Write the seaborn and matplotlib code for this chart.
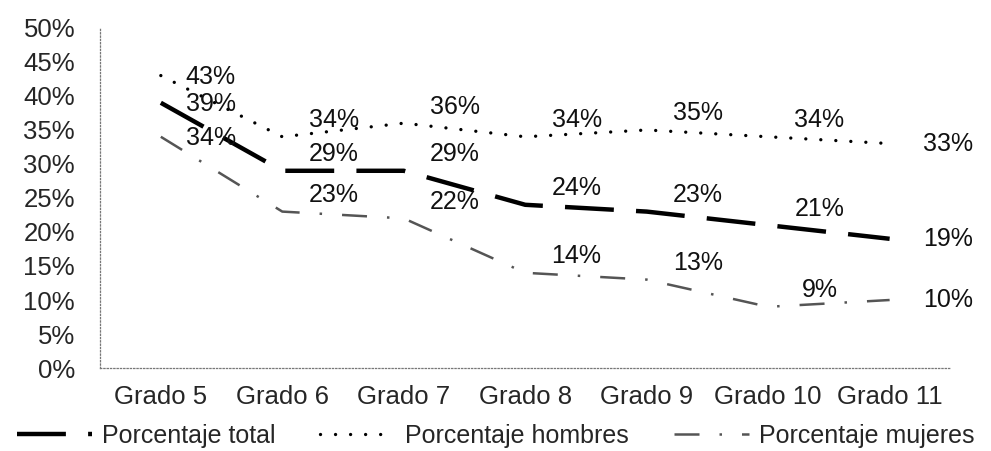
import pandas as pd
import seaborn as sns
import matplotlib.pyplot as plt

sns.set_style('white')
plt.rcParams['font.family'] = ['Liberation Sans', 'DejaVu Sans']

grados = ["Grado 5", "Grado 6", "Grado 7", "Grado 8", "Grado 9", "Grado 10", "Grado 11"]
total = [39, 29, 29, 24, 23, 21, 19]
hombres = [43, 34, 36, 34, 35, 34, 33]
mujeres = [34, 23, 22, 14, 13, 9, 10]

series = [
    ("Porcentaje total", total, dict(color='black', lw=3.2, dashes=(11, 5), cap='butt')),
    ("Porcentaje hombres", hombres, dict(color='black', lw=2.4, dashes=(0.01, 4.5), cap='round')),
    ("Porcentaje mujeres", mujeres, dict(color='#555555', lw=1.8, dashes=(10, 8, 1, 8), cap='butt')),
]

fig, ax = plt.subplots(figsize=(9.91, 4.51), dpi=100)
fig.subplots_adjust(left=0.101, right=0.959, bottom=0.184, top=0.938)

handles = []
for name, vals, st in series:
    df = pd.DataFrame({"Grado": grados, "Valor": vals})
    sns.lineplot(data=df, x="Grado", y="Valor", ax=ax, color=st['color'], lw=st['lw'],
                 legend=False)
    ln = ax.lines[-1]
    ln.set_dashes(st['dashes'])
    ln.set_dash_capstyle(st['cap'])
    ln.set_label(name)
    handles.append(ln)
    n = len(vals)
    for i, v in enumerate(vals):
        if i == n - 1:
            off = (42, 0)
        elif i == 0:
            off = (36, -1)
        else:
            off = (37, 12)
        ax.annotate(f"{v}%", (i, v), xytext=off, textcoords='offset points',
                    ha='center', va='center', fontsize=18, color='#111111')

ax.set_xlim(-0.5, 6.5)
ax.set_ylim(0, 50)
ax.set_yticks(range(0, 51, 5))
ax.set_yticklabels([f"{t}%" for t in range(0, 51, 5)])
ax.set_xlabel("")
ax.set_ylabel("")
ax.tick_params(axis='y', length=0, pad=18, labelsize=18.5)
ax.tick_params(axis='x', length=0, pad=12, labelsize=18.5)
for s in ['top', 'right']:
    ax.spines[s].set_visible(False)
for s in ['left', 'bottom']:
    ax.spines[s].set_color('#777777')
    ax.spines[s].set_linewidth(0.9)
    ax.spines[s].set_linestyle(':')

fig.legend(handles=handles, loc='center', bbox_to_anchor=(0.5, 0.033), ncol=3,
           frameon=False, fontsize=18, handlelength=3.0, columnspacing=1.8,
           handletextpad=0.4)

plt.savefig("out.png", dpi=100)
